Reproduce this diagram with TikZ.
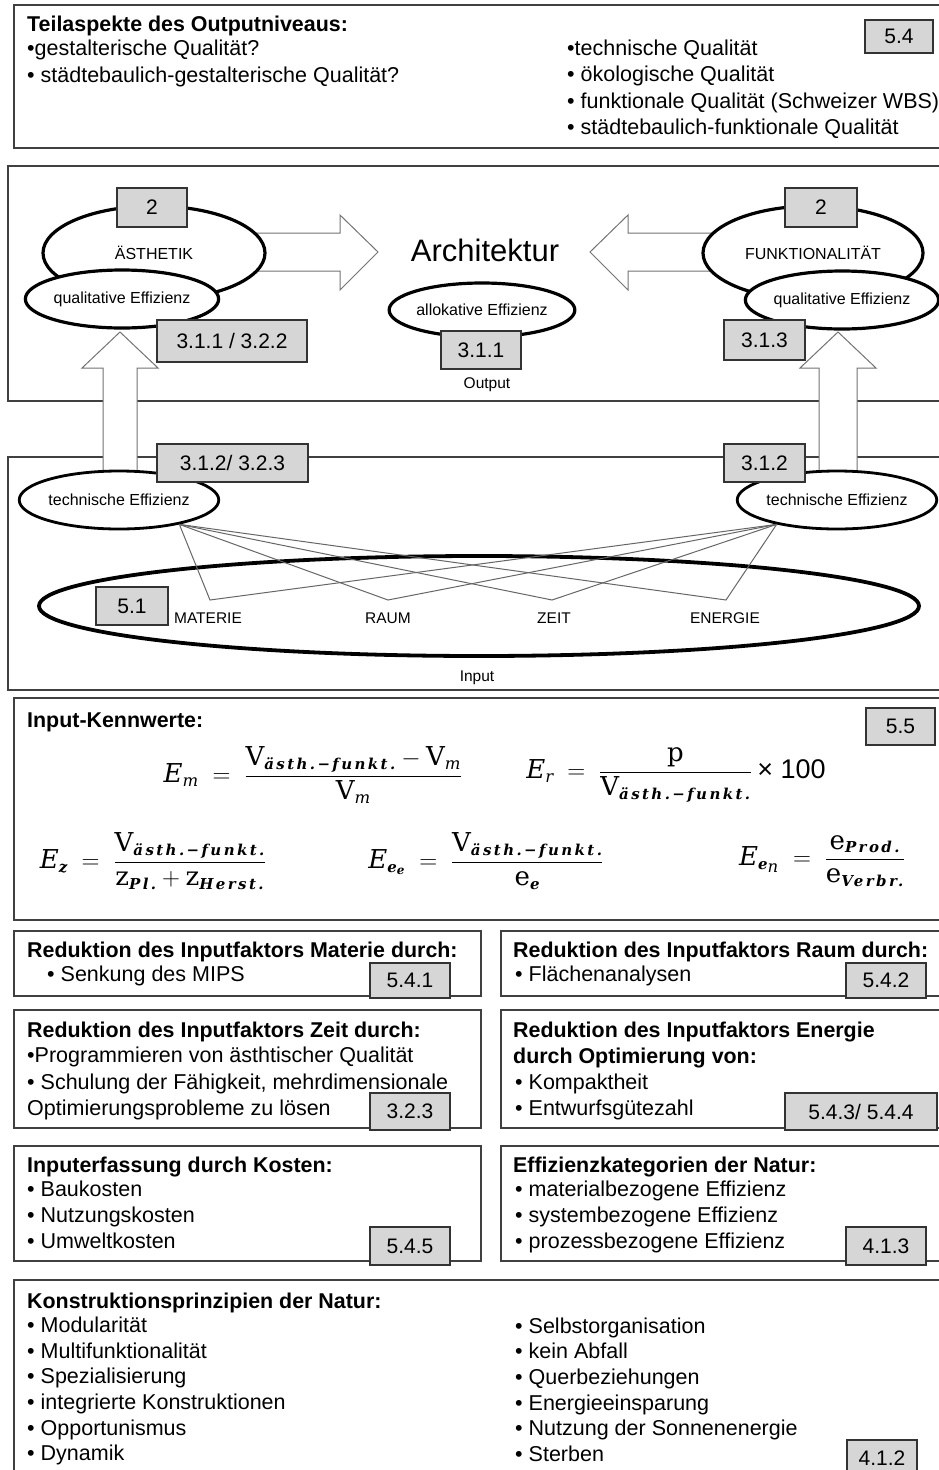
\documentclass[tikz,border=0pt]{standalone}
\usepackage{amsmath}
\usepackage{fontspec}
\setmainfont{Liberation Sans}
\newfontfamily\fd{DejaVu Serif}
\newfontfamily\fsub{DejaVu Serif}[LetterSpace=16]
\usetikzlibrary{shapes.geometric}

\newcommand{\Vv}{\text{\fd V}}
\newcommand{\Ei}{\text{\fd\itshape E}}
\newcommand{\sbi}[1]{\text{\fontsize{15}{15}\selectfont\fsub\bfseries\itshape #1}}
\newcommand{\si}[1]{\text{\fontsize{16.5}{16.5}\selectfont\fd\itshape #1}}
\newcommand{\ssi}[1]{\text{\fontsize{12}{12}\selectfont\fd\bfseries\itshape #1}}
\newcommand{\up}[1]{\text{\fd #1}}
\newcommand{\eqq}{\mkern5mu=\mkern5mu}

\tikzset{
 frame/.style={draw=black!75, line width=1.5pt, fill=white},
 numbox/.style={draw=black!80, fill=black!16, line width=1.2pt, inner sep=0pt, font=\fontsize{21}{21}\selectfont},
 txt/.style={anchor=base west, inner sep=0pt, font=\fontsize{21.5}{24}\selectfont},
 head/.style={anchor=base west, inner sep=0pt, font=\fontsize{21.4}{24}\selectfont\bfseries},
 oval/.style={ellipse, draw=black, line width=3.2pt, fill=white, inner sep=0pt, font=\fontsize{16}{16}\selectfont, text=black},
 blockarrow/.style={draw=black!55, line width=1pt, fill=white},
 link/.style={draw=black!60, line width=1pt},
 small/.style={inner sep=0pt, font=\fontsize{15.5}{15.5}\selectfont},
 lab/.style={inner sep=0pt, font=\fontsize{15.5}{15.5}\selectfont, text=black},
 formula/.style={inner sep=0pt, font=\fontsize{26}{30}\selectfont},
}

\begin{document}
\begin{tikzpicture}[x=1pt,y=-1pt]
\useasboundingbox (0,0) rectangle (939,1470);
\clip (0,0) rectangle (939,1470);

% ---------- top box ----------
\draw[frame] (14,5) rectangle (950,148);
\node[head] (t0) at (27,31) {Teilaspekte des Outputniveaus:};
\node[txt] (t1) at (27,55) {•gestalterische Qualität?};
\node[txt] (t2) at (27,82) {• städtebaulich-gestalterische Qualität?};
\node[txt] (t3) at (567,55) {•technische Qualität};
\node[txt] (t4) at (567,81) {• ökologische Qualität};
\node[txt] (t5) at (567,108) {• funktionale Qualität (Schweizer WBS)};
\node[txt] (t6) at (567,134) {• städtebaulich-funktionale Qualität};
\node[numbox, minimum width=68pt, minimum height=33pt] (n54) at (899,36.5) {5.4};

% ---------- output / input frames ----------
\draw[frame] (8,166) rectangle (950,401);
\draw[frame] (8,457) rectangle (950,690);

% block arrows
\draw[blockarrow] (240,233) -- (340,233) -- (340,215) -- (378,252) -- (340,290) -- (340,271) -- (240,271) -- cycle;
\draw[blockarrow] (730,233) -- (628,233) -- (628,215) -- (590,252) -- (628,290) -- (628,271) -- (730,271) -- cycle;
\draw[blockarrow] (103,490) -- (103,368) -- (82,368) -- (120,332) -- (158,368) -- (137,368) -- (137,490) -- cycle;
\draw[blockarrow] (819,490) -- (819,368) -- (800,368) -- (838,332) -- (876,368) -- (857,368) -- (857,490) -- cycle;

% ellipses of the output level
\node[oval, minimum width=222pt, minimum height=94pt] (aes) at (154,253) {ÄSTHETIK};
\node[oval, minimum width=156pt, minimum height=58pt] (qeL) at (122,299) {qualitative Effizienz};
\node[oval, minimum width=220pt, minimum height=94pt] (fun) at (813,253) {FUNKTIONALITÄT};
\node[oval, minimum width=160pt, minimum height=58pt] (qeR) at (842,300) {qualitative Effizienz};
\node[oval, minimum width=156pt, minimum height=54pt] (alo) at (482,310) {allokative Effizienz};
\node[inner sep=0pt, font=\fontsize{31}{31}\selectfont] (arch) at (485,250) {Architektur};
\node[small] (out) at (487,385) {Output};

% ellipses of the input level
\node[oval, line width=2.8pt, minimum width=160pt, minimum height=58pt] (teL) at (119,500) {technische Effizienz};
\node[oval, line width=2.8pt, minimum width=160pt, minimum height=58pt] (teR) at (837,500) {technische Effizienz};
\node[ellipse, draw=black, line width=3.8pt, minimum width=880pt, minimum height=100pt] (inp) at (479,606) {};

\coordinate (aM) at (210,600);
\coordinate (aR) at (388,600);
\coordinate (aZ) at (552,600);
\coordinate (aE) at (726,600);
\foreach \a in {aM,aR,aZ,aE}{
  \draw[link] (teL.-22) -- (\a) -- (teR.202);
}
\node[lab] (lM) at (208,618) {MATERIE};
\node[lab] (lR) at (388,618) {RAUM};
\node[lab] (lZ) at (554,618) {ZEIT};
\node[lab] (lE) at (725,618) {ENERGIE};
\node[small] (inl) at (477,678) {Input};

% number boxes of the diagram
\node[numbox, minimum width=70pt, minimum height=39pt] (n2L) at (152,207.5) {2};
\node[numbox, minimum width=72pt, minimum height=39pt] (n2R) at (821,207.5) {2};
\node[numbox, minimum width=150pt, minimum height=42pt] (n3112) at (232,341) {3.1.1 / 3.2.2};
\node[numbox, minimum width=80pt, minimum height=38pt] (n311) at (481,350) {3.1.1};
\node[numbox, minimum width=81pt, minimum height=40pt] (n313) at (764.5,340) {3.1.3};
\node[numbox, minimum width=151pt, minimum height=38pt] (n3123) at (232.5,463) {3.1.2/ 3.2.3};
\node[numbox, minimum width=81pt, minimum height=38pt] (n312) at (764.5,463) {3.1.2};
\node[numbox, minimum width=72pt, minimum height=38pt] (n51) at (132,606) {5.1};

% ---------- Kennwerte ----------
\draw[frame, line width=2pt] (14,698) rectangle (950,920);
\node[head] (k0) at (27,727) {Input-Kennwerte:};
\node[numbox, minimum width=69pt, minimum height=37pt] (n55) at (900.5,726.5) {5.5};
\node[formula] (f1) at (313,775) {$\Ei_{\si{m}} \eqq \dfrac{\Vv_{\sbi{ästh.−funkt.}} - \Vv_{\si{m}}}{\Vv_{\si{m}}}$};
\node[formula] (f2) at (676,775) {$\Ei_{\si{r}} \eqq \dfrac{\up{p}}{\Vv_{\sbi{ästh.−funkt.}}}\mkern4mu\text{\fontsize{27}{27}\selectfont× 100}$};
\node[formula] (f3) at (153,861) {$\Ei_{\sbi{z}} \eqq \dfrac{\Vv_{\sbi{ästh.−funkt.}}}{\up{z}_{\sbi{Pl.}} + \up{z}_{\sbi{Herst.}}}$};
\node[formula] (f4) at (486,861) {$\Ei_{\sbi{e}_{\ssi{e}}} \eqq \dfrac{\Vv_{\sbi{ästh.−funkt.}}}{\up{e}_{\sbi{e}}}$};
\node[formula] (f5) at (822,861) {$\Ei_{\sbi{e}_{\si{n}}} \eqq \dfrac{\up{e}_{\sbi{Prod.}}}{\up{e}_{\sbi{Verbr.}}}$};

% ---------- row 1 ----------
\draw[frame] (14,931) rectangle (481,996);
\draw[frame] (501,931) rectangle (950,996);
\node[head] (a0) at (27,957) {Reduktion des Inputfaktors Materie durch:};
\node[txt] (a1) at (47,981) {• Senkung des MIPS};
\node[head] (b0) at (513,957) {Reduktion des Inputfaktors Raum durch:};
\node[txt] (b1) at (515,981) {• Flächenanalysen};
\node[numbox, minimum width=80pt, minimum height=35pt] (n541) at (410,980.5) {5.4.1};
\node[numbox, minimum width=80pt, minimum height=35pt] (n542) at (886,980.5) {5.4.2};

% ---------- row 2 ----------
\draw[frame] (14,1010) rectangle (481,1128);
\draw[frame] (501,1010) rectangle (950,1128);
\node[head] (c0) at (27,1037) {Reduktion des Inputfaktors Zeit durch:};
\node[txt] (c1) at (27,1062) {•Programmieren von ästhtischer Qualität};
\node[txt] (c2) at (27,1089) {• Schulung der Fähigkeit, mehrdimensionale};
\node[txt] (c3) at (27,1115) {Optimierungsprobleme zu lösen};
\node[head] (d0) at (513,1037) {Reduktion des Inputfaktors Energie};
\node[head] (d1) at (513,1063) {durch Optimierung von:};
\node[txt] (d2) at (515,1089) {• Kompaktheit};
\node[txt] (d3) at (515,1115) {• Entwurfsgütezahl};
\node[numbox, minimum width=80pt, minimum height=37pt] (n323) at (410,1111.5) {3.2.3};
\node[numbox, minimum width=152pt, minimum height=37pt] (n5434) at (861,1111.5) {5.4.3/ 5.4.4};

% ---------- row 3 ----------
\draw[frame] (14,1146) rectangle (481,1261);
\draw[frame] (501,1146) rectangle (950,1261);
\node[head] (e0) at (27,1172) {Inputerfassung durch Kosten:};
\node[txt] (e1) at (27,1196) {• Baukosten};
\node[txt] (e2) at (27,1222) {• Nutzungskosten};
\node[txt] (e3) at (27,1248) {• Umweltkosten};
\node[head] (g0) at (513,1172) {Effizienzkategorien der Natur:};
\node[txt] (g1) at (515,1196) {• materialbezogene Effizienz};
\node[txt] (g2) at (515,1222) {• systembezogene Effizienz};
\node[txt] (g3) at (515,1248) {• prozessbezogene Effizienz};
\node[numbox, minimum width=80pt, minimum height=38pt] (n545) at (410,1246) {5.4.5};
\node[numbox, minimum width=80pt, minimum height=38pt] (n413) at (886,1246) {4.1.3};

% ---------- bottom box ----------
\draw[frame] (14,1280) rectangle (950,1490);
\node[head] (h0) at (27,1308) {Konstruktionsprinzipien der Natur:};
\node[txt] (h1) at (27,1332) {• Modularität};
\node[txt] (h2) at (27,1358) {• Multifunktionalität};
\node[txt] (h3) at (27,1383) {• Spezialisierung};
\node[txt] (h4) at (27,1409) {• integrierte Konstruktionen};
\node[txt] (h5) at (27,1435) {• Opportunismus};
\node[txt] (h6) at (27,1460) {• Dynamik};
\node[txt] (i1) at (515,1333) {• Selbstorganisation};
\node[txt] (i2) at (515,1358) {• kein Abfall};
\node[txt] (i3) at (515,1384) {• Querbeziehungen};
\node[txt] (i4) at (515,1410) {• Energieeinsparung};
\node[txt] (i5) at (515,1435) {• Nutzung der Sonnenenergie};
\node[txt] (i6) at (515,1461) {• Sterben};
\node[numbox, minimum width=70pt, minimum height=36pt] (n412) at (882,1458) {4.1.2};
\end{tikzpicture}
\end{document}
